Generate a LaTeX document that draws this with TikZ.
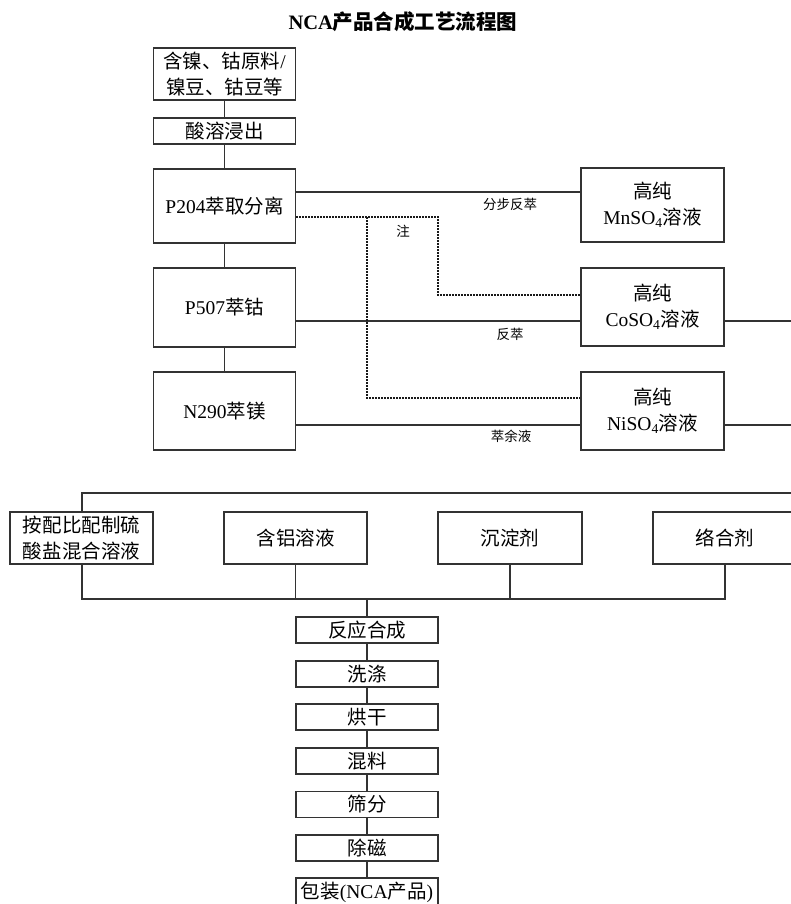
\documentclass[tikz,border=0pt]{standalone}
\usepackage{fontspec}
\setmainfont{Liberation Serif}
\newfontfamily\cjk{Noto Sans CJK SC}
\newcommand\LatT[1]{{\rmfamily #1}}
\tikzset{
  box/.style={draw=black!80, line width=1.1pt, minimum width=142pt, inner sep=0pt,
    align=center, font=\cjk\fontsize{19.5}{26}\selectfont},
  lab/.style={font=\cjk\fontsize{13.5}{15}\selectfont, inner sep=0pt},
  ln/.style={draw=black!80, line width=1.1pt},
  dotln/.style={draw=black!90, line width=1.1pt, dash pattern=on 1.5pt off 1.5pt}
}
\begin{document}
\begin{tikzpicture}[x=1pt,y=-1pt]
\useasboundingbox (0,0) rectangle (791,904);
% title
\node[font=\cjk\bfseries\fontsize{20.5}{24}\selectfont, inner sep=0pt] (title) at (403,22) {\LatT{\bfseries NCA}产品合成工艺流程图};
% left column
\node[box, minimum height=52pt] (b1) at (224.5,74) {含镍、钴原料\LatT{/}\\镍豆、钴豆等};
\node[box, minimum height=26pt] (b2) at (224.5,131) {酸溶浸出};
\node[box, minimum height=74pt] (b3) at (224.5,206) {\LatT{P204}萃取分离};
\node[box, minimum height=79pt] (b4) at (224.5,307.5) {\LatT{P507}萃钴};
\node[box, minimum height=78pt] (b5) at (224.5,411) {\LatT{N290}萃镁};
% right column
\node[box, minimum width=143pt, minimum height=74pt] (mn) at (652.5,205) {高纯\\\LatT{MnSO\textsubscript{4}}溶液};
\node[box, minimum width=143pt, minimum height=78pt] (co) at (652.5,307) {高纯\\\LatT{CoSO\textsubscript{4}}溶液};
\node[box, minimum width=143pt, minimum height=78pt] (ni) at (652.5,411) {高纯\\\LatT{NiSO\textsubscript{4}}溶液};
\draw[ln] (b1) -- (b2);
\draw[ln] (b2) -- (b3);
\draw[ln] (b3) -- (b4);
\draw[ln] (b4) -- (b5);
% connectors to the right column
\coordinate (edgeR) at (791,0);
\coordinate (p1) at ([yshift=14pt]b3.east);
\draw[ln] (p1) -- (p1 -| mn.west);
\coordinate (p2) at ([yshift=-13.5pt]b4.east);
\draw[ln] (p2) -- (p2 -| co.west);
\draw[ln] (p2 -| co.east) -- (p2 -| edgeR);
\coordinate (p3) at ([yshift=-14pt]b5.east);
\draw[ln] (p3) -- (p3 -| ni.west);
\draw[ln] (p3 -| ni.east) -- (p3 -| edgeR);
% dotted
\coordinate (d1) at ([yshift=-11pt]b3.east);
\coordinate (k1) at (438,217);
\coordinate (k2) at (438,295);
\coordinate (k3) at (367,217);
\coordinate (k4) at (367,398);
\draw[dotln] (d1) -- (k1) -- (k2) -- (k2 -| co.west);
\draw[dotln] (k3) -- (k4) -- (k4 -| ni.west);
% labels
\node[lab] (l1) at (510,204) {分步反萃};
\node[lab] (l2) at (403,231) {注};
\node[lab] (l3) at (510,334) {反萃};
\node[lab] (l4) at (511,436) {萃余液};
% bottom section
\node[box, minimum width=143pt, minimum height=52pt] (mix) at (81.5,538) {按配比配制硫\\酸盐混合溶液};
\node[box, minimum width=143pt, minimum height=52pt] (al) at (295.5,538) {含铝溶液};
\node[box, minimum width=144pt, minimum height=52pt] (pr) at (510,538) {沉淀剂};
\node[box, minimum width=144pt, minimum height=52pt] (cx) at (725,538) {络合剂};
\coordinate (t1) at (82,493);
\coordinate (bus) at (0,599);
\draw[ln] (mix.north -| t1) -- (t1) -- (t1 -| edgeR);
\draw[ln] (mix.south -| t1) -- (t1 |- bus) -- (cx.south |- bus) -- (cx.south);
\draw[ln] (al.south) -- (al.south |- bus);
\draw[ln] (pr.south) -- (pr.south |- bus);
% chain
\node[box, minimum height=26pt] (r1) at (367,630) {反应合成};
\node[box, minimum height=26pt] (r2) at (367,674) {洗涤};
\node[box, minimum height=26pt] (r3) at (367,717) {烘干};
\node[box, minimum height=26pt] (r4) at (367,761) {混料};
\node[box, minimum height=26pt] (r5) at (367,804.5) {筛分};
\node[box, minimum height=26pt] (r6) at (367,848) {除磁};
\node[box, minimum height=28pt] (r7) at (367,892) {包装\LatT{(NCA}产品\LatT{)}};
\draw[ln] (r1.north |- bus) -- (r1.north);
\draw[ln] (r1) -- (r2);
\draw[ln] (r2) -- (r3);
\draw[ln] (r3) -- (r4);
\draw[ln] (r4) -- (r5);
\draw[ln] (r5) -- (r6);
\draw[ln] (r6) -- (r7);
\end{tikzpicture}
\end{document}
